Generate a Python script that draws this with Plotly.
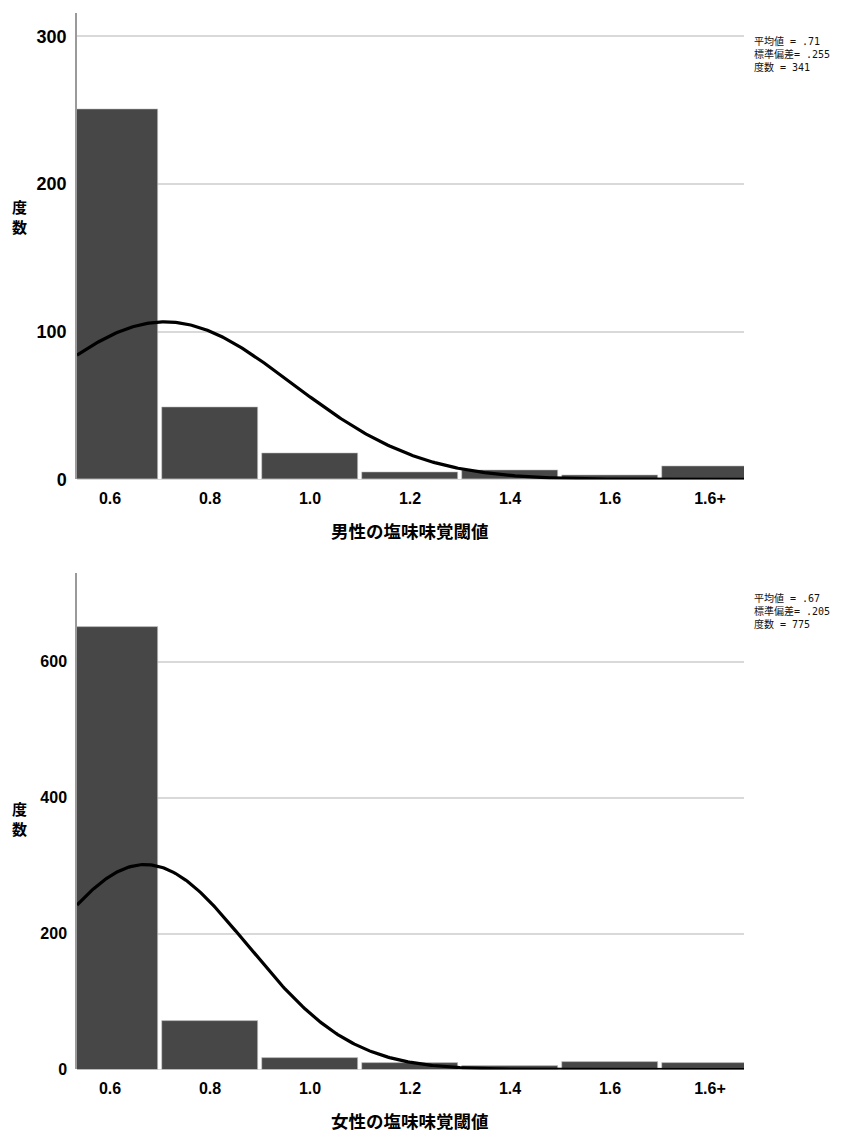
import numpy as np
import plotly.graph_objects as go

# Bin centres (last bin is the open-ended "1.6+" class)
bin_centers = [0.6, 0.8, 1.0, 1.2, 1.4, 1.6, 1.8]
tick_labels = ["0.6", "0.8", "1.0", "1.2", "1.4", "1.6", "1.6+"]
bin_width = 0.2

# Frequencies per bin
male_counts = [251, 49, 18, 5, 6, 3, 9]
female_counts = [651, 71, 17, 9, 6, 11, 10]

# Summary statistics shown beside each histogram
male_stats = {"mean": 0.71, "sd": 0.255, "n": 341}
female_stats = {"mean": 0.67, "sd": 0.205, "n": 775}

W, H = 845, 1133
BAR_COLOR = "#474747"
GRID_COLOR = "#d9d9d9"
X_RANGE = [0.534, 1.868]


def px_x(v):
    return v / W


def px_y(v):
    return 1 - v / H


def normal_curve(stats):
    xs = np.linspace(X_RANGE[0], X_RANGE[1], 400)
    scale = stats["n"] * bin_width / (stats["sd"] * np.sqrt(2 * np.pi))
    ys = scale * np.exp(-0.5 * ((xs - stats["mean"]) / stats["sd"]) ** 2)
    return xs, ys


fig = go.Figure()

panels = [
    dict(counts=male_counts, stats=male_stats, xa="x", ya="y",
         top=13.3, bottom=483.7, ymax=315.7, ticks=[0, 100, 200, 300],
         title="男性の塩味味覚閾値", title_y=535, ylabel_y=218, stat_y=54,
         tickfont=18),
    dict(counts=female_counts, stats=female_stats, xa="x2", ya="y2",
         top=578, bottom=1079, ymax=731, ticks=[0, 200, 400, 600],
         title="女性の塩味味覚閾値", title_y=1130, ylabel_y=826, stat_y=616,
         tickfont=16),
]

layout_axes = {}
annotations = []

for i, p in enumerate(panels):
    fig.add_trace(go.Bar(
        x=bin_centers, y=p["counts"], width=bin_width * 0.96,
        marker=dict(color=BAR_COLOR, line=dict(color="#cfcfcf", width=0.6)),
        xaxis=p["xa"], yaxis=p["ya"], showlegend=False, hoverinfo="x+y",
    ))
    cx, cy = normal_curve(p["stats"])
    fig.add_trace(go.Scatter(
        x=cx, y=cy, mode="lines", line=dict(color="black", width=3.2),
        xaxis=p["xa"], yaxis=p["ya"], showlegend=False, hoverinfo="skip",
    ))

    suffix = "" if i == 0 else str(i + 1)
    layout_axes["xaxis" + suffix] = dict(
        domain=[px_x(77), px_x(744)], anchor="y" + suffix,
        range=X_RANGE, tickvals=bin_centers, ticktext=tick_labels,
        showgrid=False, zeroline=False, showline=False, ticks="",
        tickfont=dict(family="Liberation Sans", size=16, color="black", weight="bold"),
        ticklabelstandoff=8,
    )
    layout_axes["yaxis" + suffix] = dict(
        domain=[px_y(p["bottom"]), px_y(p["top"])], anchor="x" + suffix,
        range=[0, p["ymax"]], tickvals=p["ticks"],
        showgrid=True, gridcolor=GRID_COLOR, gridwidth=1.5,
        zeroline=True, zerolinecolor=GRID_COLOR, zerolinewidth=1,
        showline=True, linecolor="#9a9a9a", linewidth=1.5, ticks="",
        tickfont=dict(family="Liberation Sans", size=p["tickfont"], color="black",
                      weight="bold"),
        ticklabelstandoff=5,
    )

    annotations.append(dict(
        text="<b>" + p["title"] + "</b>", x=px_x(410), y=px_y(p["title_y"]),
        xref="paper", yref="paper", showarrow=False,
        font=dict(family="Noto Sans CJK JP", size=17.5, color="black"),
        xanchor="center", yanchor="middle", borderpad=0,
    ))
    annotations.append(dict(
        text="<b>度<br>数</b>", x=px_x(19), y=px_y(p["ylabel_y"]),
        xref="paper", yref="paper", showarrow=False,
        font=dict(family="Noto Sans CJK JP", size=15, color="black"),
        xanchor="center", yanchor="middle",
    ))
    s = p["stats"]
    stat_lines = [
        "平均値 = " + ("%.2f" % s["mean"]).lstrip("0"),
        "標準偏差= " + ("%.3f" % s["sd"]).lstrip("0"),
        "度数 = %d" % s["n"],
    ]
    annotations.append(dict(
        text="<br>".join(stat_lines), x=px_x(752), y=px_y(p["stat_y"]),
        xref="paper", yref="paper", showarrow=False, align="left",
        font=dict(family="DejaVu Sans Mono, Noto Sans CJK JP", size=10, color="#111111"),
        xanchor="left", yanchor="middle",
    ))

fig.update_layout(
    width=W, height=H, margin=dict(l=0, r=0, t=0, b=0),
    paper_bgcolor="white", plot_bgcolor="white",
    bargap=0, annotations=annotations, **layout_axes,
)

fig.write_html("out.html")
